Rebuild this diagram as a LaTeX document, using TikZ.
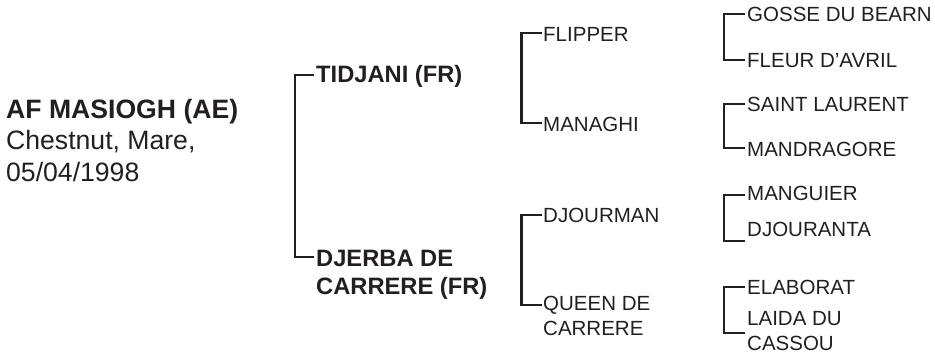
\documentclass[tikz,border=0pt]{standalone}
\usepackage{fontspec}
\setmainfont{Liberation Sans}
\definecolor{ink}{HTML}{231F20}
\newcommand{\twoln}[2]{\vtop{\hbox{#1}\hbox{#2}}}
\begin{document}
\begin{tikzpicture}[x=1pt,y=-1pt,
  lbl/.style={anchor=base west, inner sep=0pt, text=ink},
  titletxt/.style={lbl, font=\fontsize{26.6}{31.5}\selectfont},
  gone/.style={lbl, font=\fontsize{23.7}{28}\selectfont\bfseries},
  gtwo/.style={lbl, font=\fontsize{20.5}{25}\selectfont},
  brk/.style={draw=ink, line width=2.5pt}]
\useasboundingbox (0,0) rectangle (935,356);

% subject
\node[titletxt] (horse) at (6,118) {\vtop{\hbox{\bfseries AF MASIOGH (AE)}\hbox{Chestnut, Mare,}\hbox{05/04/1998}}};

% generation 1
\coordinate (s1) at (314,75);
\coordinate (d1) at (314,257);
\node[gone] (tidjani) at (316,82.5) {TIDJANI (FR)};
\node[gone] (djerba) at (316,266.5) {\twoln{DJERBA DE}{CARRERE (FR)}};
\draw[brk] (s1) -- ++(-19,0) |- (d1);

% generation 2
\coordinate (s2a) at (541.5,33);
\coordinate (d2a) at (541.5,123);
\node[gtwo] (flipper) at (543,41) {FLIPPER};
\node[gtwo] (managhi) at (543,131) {MANAGHI};
\draw[brk] (s2a) -- ++(-20,0) |- (d2a);

\coordinate (s2b) at (541.5,215);
\coordinate (d2b) at (541.5,305);
\node[gtwo] (djourman) at (543,222.5) {DJOURMAN};
\node[gtwo] (queen) at (543,310) {\twoln{QUEEN DE}{CARRERE}};
\draw[brk] (s2b) -- ++(-20,0) |- (d2b);

% generation 3
\coordinate (s3a) at (745,14);
\coordinate (d3a) at (745,60);
\node[gtwo] (gosse) at (747,21.5) {GOSSE DU BEARN};
\node[gtwo] (fleur) at (747,67.5) {FLEUR D’AVRIL};
\draw[brk] (s3a) -- ++(-21,0) |- (d3a);

\coordinate (s3b) at (745,104);
\coordinate (d3b) at (745,148);
\node[gtwo] (saint) at (747,111.5) {SAINT LAURENT};
\node[gtwo] (mandragore) at (747,156.5) {MANDRAGORE};
\draw[brk] (s3b) -- ++(-21,0) |- (d3b);

\coordinate (s3c) at (745,195);
\coordinate (d3c) at (745,241);
\node[gtwo] (manguier) at (747,200.5) {MANGUIER};
\node[gtwo] (djouranta) at (747,236.5) {DJOURANTA};
\draw[brk] (s3c) -- ++(-21,0) |- (d3c);

\coordinate (s3d) at (745,287);
\coordinate (d3d) at (745,333);
\node[gtwo] (elaborat) at (747,294.5) {ELABORAT};
\node[gtwo] (laida) at (747,325.5) {\twoln{LAIDA DU}{CASSOU}};
\draw[brk] (s3d) -- ++(-21,0) |- (d3d);
\end{tikzpicture}
\end{document}
